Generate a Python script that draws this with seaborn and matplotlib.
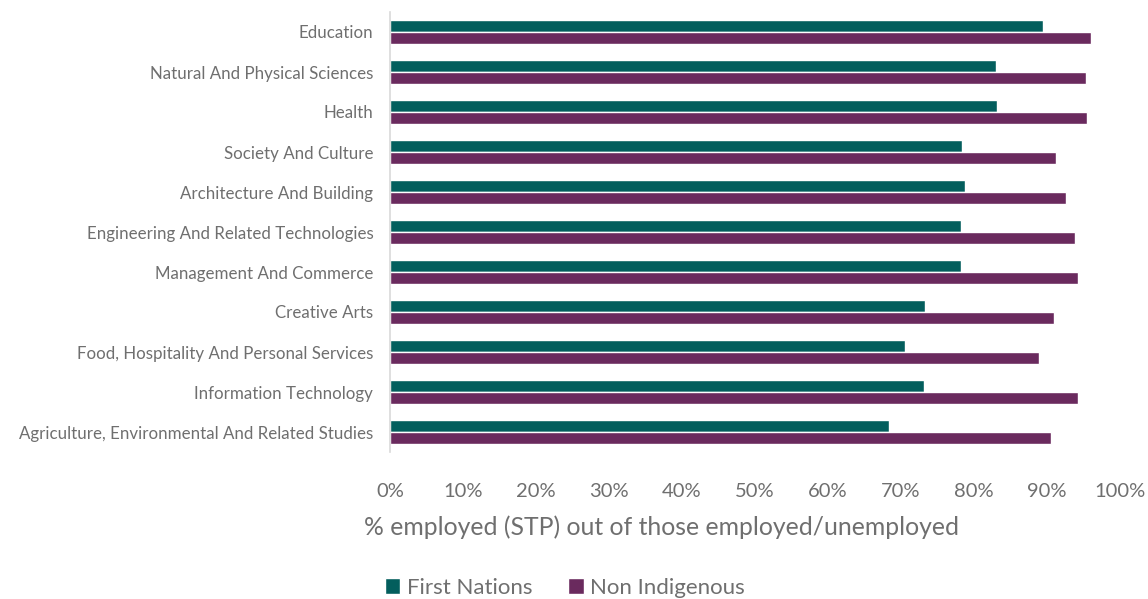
import pandas as pd
import numpy as np
import seaborn as sns
import matplotlib.pyplot as plt
from matplotlib.ticker import PercentFormatter

# Fields of education, top to bottom
fields = ["Education", "Natural And Physical Sciences", "Health",
          "Society And Culture", "Architecture And Building",
          "Engineering And Related Technologies", "Management And Commerce",
          "Creative Arts", "Food, Hospitality And Personal Services",
          "Information Technology",
          "Agriculture, Environmental And Related Studies"]

first_nations = [89.5, 83.0, 83.1, 78.3, 78.8, 78.2, 78.2, 73.3, 70.5, 73.2, 68.4]
non_indigenous = [96.0, 95.4, 95.5, 91.3, 92.6, 93.9, 94.3, 91.0, 88.9, 94.2, 90.6]

groups = ["First Nations", "Non Indigenous"]

df = pd.DataFrame({
    "field": fields * 2,
    "group": [groups[0]] * len(fields) + [groups[1]] * len(fields),
    "value": first_nations + non_indigenous,
})

sns.set_theme(style="white")
plt.rcParams["font.family"] = ["Lato", "DejaVu Sans"]

grey = "#6f6f6f"
palette = ["#035e5d", "#6a2a5e"]

fig = plt.figure(figsize=(11.48, 5.99), dpi=100)
ax = fig.add_axes([390 / 1148, 1 - 452 / 599, 730 / 1148, 440 / 599])

sns.barplot(data=df, y="field", x="value", hue="group", orient="h",
            palette=palette, width=0.58, saturation=1, ax=ax, legend=True)

ax.set_xlim(0, 100)
ax.set_ylim(10.5, -0.5)
ax.xaxis.set_major_locator(plt.MultipleLocator(10))
ax.xaxis.set_major_formatter(PercentFormatter(decimals=0))

for s in ["top", "right", "bottom"]:
    ax.spines[s].set_visible(False)
ax.spines["left"].set_color("#d9d9d9")
ax.spines["left"].set_linewidth(1.2)

ax.tick_params(axis="y", length=0, labelsize=12.2, labelcolor=grey, pad=12)
ax.tick_params(axis="x", length=0, labelsize=14.5, labelcolor=grey, pad=22)

ax.set_ylabel("")
ax.set_xlabel("% employed (STP) out of those employed/unemployed",
              fontsize=17.8, color=grey)
ax.xaxis.set_label_coords((661 - 390) / 730, -0.144)

ax.get_legend().remove()
handles, labels = ax.get_legend_handles_labels()
leg = fig.legend(handles, labels, loc="center",
                 bbox_to_anchor=(565 / 1148, 1 - 588 / 599), ncol=2,
                 frameon=False, fontsize=16, handlelength=0.7, handleheight=0.7,
                 handletextpad=0.3, columnspacing=1.6)
for t in leg.get_texts():
    t.set_color(grey)

fig.savefig("out.png", dpi=100)
